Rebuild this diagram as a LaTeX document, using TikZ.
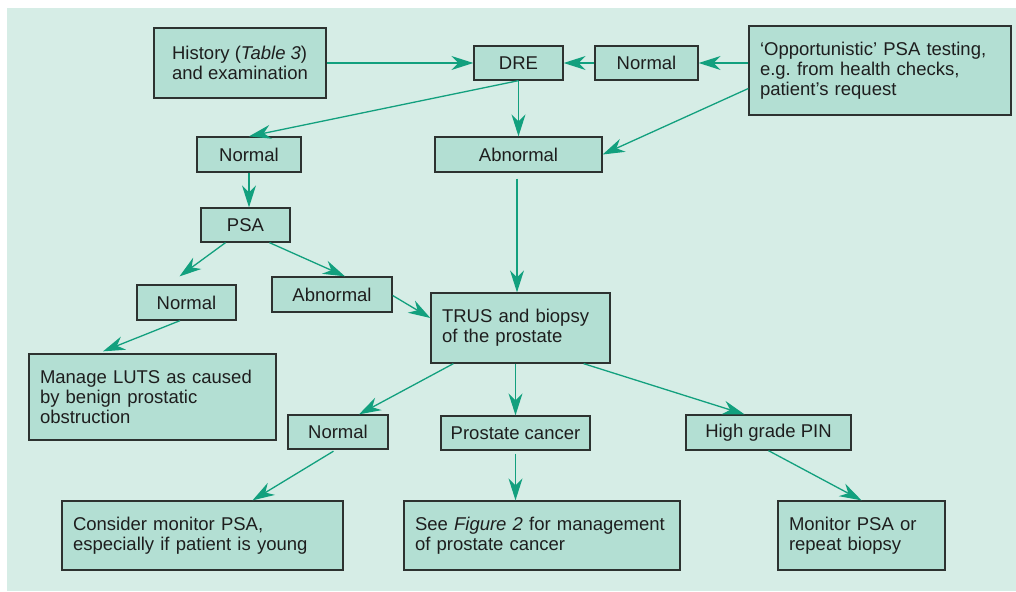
\documentclass[tikz,border=0pt]{standalone}
\usepackage{xcolor}
\usepackage{fontspec}
\setmainfont{Liberation Sans}
\usetikzlibrary{arrows.meta}
\usetikzlibrary{calc,positioning}

\definecolor{panel}{RGB}{214,237,230}
\definecolor{boxfill}{RGB}{179,223,211}
\definecolor{boxline}{RGB}{45,50,48}
\definecolor{flowgreen}{RGB}{18,160,126}
\definecolor{ink}{RGB}{30,30,30}

\tikzset{
    box/.style={draw=boxline, fill=boxfill, line width=1.3pt, inner sep=0pt,
        text=ink, font=\fontsize{18.5}{20}\selectfont\frenchspacing},
    textbox/.style={box, align=left, inner xsep=11pt},
    flow/.style={-{Stealth[length=22pt,width=14pt,inset=7pt]},
        draw=flowgreen, line width=1.3pt}
}

\begin{document}
\begin{tikzpicture}[x=1pt, y=-1pt]

    % Panel
    \fill[white] (0,0) rectangle (1016,591);
    \fill[panel] (7,8) rectangle (1016,591);
    \useasboundingbox (0,0) rectangle (1016,591);

    % Top row
    \node[box, align=left, minimum width=172pt, minimum height=70pt] (hist) at (240,63)
        {History (\textit{Table 3})\\and examination};
    \node[box, minimum width=89pt, minimum height=34pt] (dre) at (518.5,63) {DRE};
    \node[box, minimum width=103pt, minimum height=34pt] (nrm1) at (646.5,63) {Normal};
    \node[textbox, text width=240pt, minimum height=89pt] (opp) at (880,70.5)
        {‘Opportunistic’ PSA testing,\\e.g. from health checks,\\patient’s request};

    % After DRE
    \node[box, minimum width=104pt, minimum height=35pt] (nrm2) at (249,154.5) {Normal};
    \node[box, minimum width=167pt, minimum height=35pt] (abn1) at (518.5,154.5) {Abnormal};
    \node[box, minimum width=89pt, minimum height=34pt] (psa) at (245.5,225) {PSA};

    % After PSA
    \node[box, minimum width=99pt, minimum height=35pt] (nrm3) at (186.5,302.5) {Normal};
    \node[box, minimum width=120pt, minimum height=35pt] (abn2) at (332,294.5) {Abnormal};
    \node[textbox, text width=157pt, minimum height=70pt] (trus) at (520.5,328)
        {TRUS and biopsy\\of the prostate};
    \node[textbox, text width=225pt, minimum height=86pt] (luts) at (152.5,397)
        {Manage LUTS as caused\\by benign prostatic\\obstruction};

    % Biopsy results
    \node[box, minimum width=100pt, minimum height=34pt] (nrm4) at (338,432) {Normal};
    \node[box, minimum width=149pt, minimum height=34pt] (pca) at (515.5,433) {Prostate cancer};
    \node[box, minimum width=165pt, minimum height=35pt] (pin) at (768.5,432.5) {High grade PIN};

    % Bottom row
    \node[textbox, text width=259pt, minimum height=69pt] (cons) at (202.5,535.5)
        {Consider monitor PSA,\\especially if patient is young};
    \node[textbox, text width=254pt, minimum height=69pt] (fig2) at (542,535.5)
        {See \textit{Figure 2} for management\\of prostate cancer};
    \node[textbox, text width=145pt, minimum height=69pt] (mon) at (861.5,535.5)
        {Monitor PSA or\\repeat biopsy};

    % Arrows
    \draw[flow] (hist.east) -- (dre.west);
    \draw[flow] (nrm1.west) -- (dre.east);
    \draw[flow] ([yshift=7.5pt]opp.west) -- (nrm1.east);
    \draw[flow] (dre.south) -- (nrm2.north);
    \draw[flow] (dre.south) -- (abn1.north);
    \draw[flow] ([yshift=-18pt]opp.west) -- (abn1.east);
    \draw[flow] (nrm2.south) -- (nrm2.south |- psa.north);
    \draw[flow, shorten <=6pt] ([xshift=-1.5pt]abn1.south) -- ([xshift=-1.5pt]abn1.south |- trus.north);
    \draw[flow] ([xshift=-20pt]psa.south) -- ([xshift=-7pt,yshift=8pt]nrm3.north);
    \draw[flow] ([xshift=24pt]psa.south) -- ([xshift=13pt]abn2.north);
    \draw[flow] ([yshift=-1pt]abn2.east) -- ([yshift=10pt]trus.west);
    \draw[flow] ([xshift=-6.5pt]nrm3.south) -- ([xshift=-49.5pt,yshift=2pt]luts.north);
    \draw[flow] ([xshift=23pt]trus.south west) -- ([xshift=21pt]nrm4.north);
    \draw[flow] (pca.north |- trus.south) -- (pca.north);
    \draw[flow] ([xshift=-27pt]trus.south east) -- ([xshift=-24pt]pin.north);
    \draw[flow, shorten <=3pt] ([xshift=-2pt]nrm4.south) -- ([xshift=50pt]cons.north);
    \draw[flow, shorten <=3pt] (pca.south) -- (pca.south |- fig2.north);
    \draw[flow] (pin.south) -- (mon.north);

\end{tikzpicture}
\end{document}
